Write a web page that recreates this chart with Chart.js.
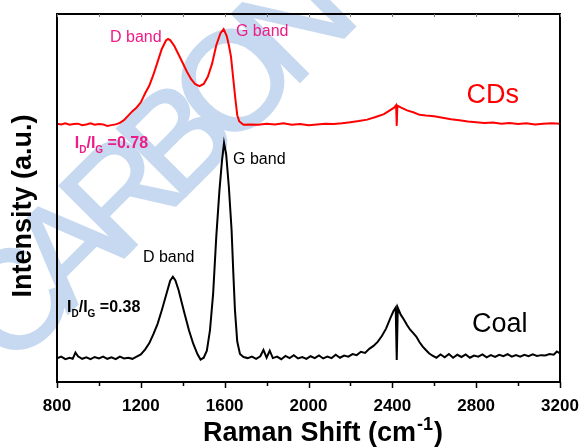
<!DOCTYPE html>
<html>
<head>
<meta charset="utf-8">
<script src="https://cdn.jsdelivr.net/npm/chart.js@4"></script>
<style>
  body { margin: 0; background: #fff; }
  #wrap { width: 584px; height: 448px; }
</style>
</head>
<body>
<div id="wrap"><canvas id="raman" width="584" height="448"></canvas></div>
<script>
// Raman spectra, shift in cm-1, intensity in arbitrary units (offset stack)
const cdsShift = [800,820,840,860,880,900,920,940,960,980,1000,1020,1040,1060,1080,1100,1120,1140,1160,1180,
    1200,1220,1240,1260,1280,1300,1320,1330,1340,1360,1380,1400,1420,1440,1460,1480,1500,1520,1540,1560,
    1580,1595,1610,1620,1630,1640,1650,1660,1670,1690,1720,1760,1800,1840,1880,1920,1960,2000,2040,2080,
    2120,2160,2200,2240,2280,2320,2360,2390,2410,2418,2421,2424,2440,2470,2500,2530,2560,2600,2640,2680,
    2720,2760,2800,2840,2880,2920,2960,3000,3040,3080,3120,3160,3200]
const cdsIntensity = [70.2,70.0,70.3,69.9,70.1,70.2,69.8,70.0,70.3,69.9,70.1,70.0,69.6,69.8,70.0,70.4,71.2,72.4,73.6,74.6,
    76.0,78.4,80.5,83.5,87.0,90.5,92.8,93.2,92.9,91.3,89.0,86.7,84.3,82.3,80.9,80.4,81.0,83.0,86.5,91.5,
    94.8,95.9,94.0,91.5,88.5,83.0,77.5,72.5,70.8,69.9,70.0,69.9,70.2,70.0,70.3,69.9,70.1,69.8,70.0,70.2,
    70.1,70.3,70.6,70.9,71.3,72.0,72.8,73.9,74.6,75.2,69.6,75.1,74.6,73.8,73.3,72.6,72.4,72.2,71.8,71.4,
    71.1,70.8,70.6,70.4,70.5,70.2,70.4,70.1,70.3,70.0,70.2,70.3,70.2]

const coalShift = [800,820,840,860,875,888,900,920,940,960,980,1000,1020,1040,1060,1080,1100,1120,1140,1160,
    1180,1200,1220,1240,1260,1280,1300,1320,1340,1353,1365,1380,1395,1410,1430,1450,1470,1485,1500,1515,
    1530,1545,1560,1575,1587,1597,1607,1620,1633,1641,1649,1660,1673,1690,1710,1730,1750,1770,1785,1800,
    1815,1830,1850,1870,1890,1910,1930,1950,1970,1990,2010,2030,2050,2070,2090,2110,2130,2150,2170,2190,
    2210,2230,2250,2270,2290,2310,2330,2350,2370,2390,2405,2416,2421,2426,2440,2455,2470,2485,2500,2515,
    2530,2545,2560,2575,2590,2610,2630,2650,2670,2690,2710,2730,2750,2770,2790,2810,2830,2850,2870,2890,
    2910,2930,2950,2970,2990,3010,3030,3050,3070,3090,3110,3130,3150,3170,3185,3200]
const coalIntensity = [6.4,6.9,6.2,6.6,6.3,8.0,7.0,6.3,6.7,6.2,6.8,6.4,6.9,6.3,6.7,6.2,6.9,6.4,6.6,6.3,
    6.9,7.5,8.8,10.5,13.0,15.8,19.5,23.5,27.5,28.6,27.6,25.0,21.6,18.3,14.0,10.4,7.6,6.1,6.6,8.5,
    14.1,24.0,39.5,52.0,60.0,65.0,62.0,53.0,41.3,30.0,19.6,11.0,7.6,6.8,6.5,6.9,6.3,7.0,8.7,6.6,
    8.5,6.5,6.9,6.2,7.1,6.5,7.3,6.4,6.8,6.3,7.0,6.5,7.2,6.4,6.9,6.5,7.4,6.6,7.2,6.9,
    7.6,7.3,8.2,7.9,9.0,9.8,10.9,12.5,14.5,17.3,19.2,20.2,6.0,20.2,18.3,17.0,15.5,14.2,13.3,12.3,
    10.8,9.6,8.7,7.8,7.2,6.6,7.5,6.7,7.6,6.6,7.4,6.8,7.5,6.6,7.2,6.9,7.5,6.7,7.3,6.8,
    7.4,7.0,7.6,6.9,7.3,6.9,7.4,7.0,7.5,7.1,7.3,7.2,7.6,7.4,8.3,7.8]

const shiftTicks = [800, 1200, 1600, 2000, 2400, 2800, 3200]

const pink = '#ee1c86'

function toPoints(xs, ys) {
    return xs.map((x, i) => ({ x: x, y: ys[i] }))
}

// light blue watermark behind the traces
const watermark = {
    id: 'watermark',
    beforeDatasetsDraw(chart) {
        const ctx = chart.ctx
        ctx.save()
        ctx.translate(-17, 344)
        ctx.rotate(-45 * Math.PI / 180)
        ctx.font = '140px "Liberation Sans", Arial, sans-serif'
        ctx.letterSpacing = '-20px'
        ctx.fillStyle = '#c6d9f0'
        ctx.strokeStyle = '#c6d9f0'
        ctx.lineWidth = 2
        ctx.textAlign = 'left'
        ctx.textBaseline = 'middle'
        ctx.fillText('CARBON', 0, 0)
        ctx.strokeText('CARBON', 0, 0)
        ctx.restore()
    }
}

// box frame + tick marks
const frame = {
    id: 'frame',
    afterDraw(chart) {
        const ctx = chart.ctx
        const a = chart.chartArea
        const xs = chart.scales.x
        ctx.save()
        ctx.strokeStyle = '#000'
        ctx.lineWidth = 2
        ctx.strokeRect(a.left, a.top, a.right - a.left, a.bottom - a.top)
        for (let v = 800; v <= 3200; v += 200) {
            const px = Math.round(xs.getPixelForValue(v)) + 0.5
            const major = v % 400 === 0
            ctx.lineWidth = 1.5
            ctx.strokeStyle = '#000'
            ctx.beginPath()
            ctx.moveTo(px, a.bottom)
            ctx.lineTo(px, a.bottom + (major ? 6 : 4))
            ctx.stroke()
            ctx.lineWidth = 1
            ctx.strokeStyle = '#777'
            ctx.beginPath()
            ctx.moveTo(px, a.top)
            ctx.lineTo(px, a.top + 3)
            ctx.stroke()
        }
        ctx.restore()
    }
}

function drawRatio(ctx, x, y, tail, color) {
    ctx.fillStyle = color
    ctx.textBaseline = 'alphabetic'
    ctx.textAlign = 'left'
    const big = 'bold 16px Arial, "Liberation Sans", sans-serif'
    const small = 'bold 10px Arial, "Liberation Sans", sans-serif'
    const parts = [['I', big, 0], ['D', small, 5], ['/I', big, 0], ['G', small, 5], [' ' + tail, big, 0]]
    parts.forEach(p => {
        ctx.font = p[1]
        ctx.fillText(p[0], x, y + p[2])
        x += ctx.measureText(p[0]).width
    })
}

// band labels and ratios, anchored in data coordinates
const notes = {
    id: 'notes',
    afterDatasetsDraw(chart) {
        const ctx = chart.ctx
        const xs = chart.scales.x
        const ys = chart.scales.y
        const px = v => xs.getPixelForValue(v)
        const py = v => ys.getPixelForValue(v)
        ctx.save()
        ctx.textAlign = 'left'
        ctx.textBaseline = 'alphabetic'
        ctx.font = '16px Arial, "Liberation Sans", sans-serif'
        ctx.fillStyle = pink
        ctx.fillText('D band', px(1053), py(92.4))
        ctx.fillText('G band', px(1654), py(94.0))
        ctx.fillStyle = '#000'
        ctx.fillText('G band', px(1640), py(59.2))
        ctx.fillText('D band', px(1210), py(32.6))
        ctx.font = '27px Arial, "Liberation Sans", sans-serif'
        ctx.fillStyle = '#ff0000'
        ctx.fillText('CDs', px(2754), py(75.8))
        ctx.fillStyle = '#000'
        ctx.fillText('Coal', px(2780), py(13.6))
        drawRatio(ctx, px(885), py(63.6), '=0.78', pink)
        drawRatio(ctx, px(848), py(19.0), '=0.38', '#000')
        ctx.restore()
    }
}

// axis titles, with the superscript in cm-1
const titles = {
    id: 'titles',
    afterDraw(chart) {
        const ctx = chart.ctx
        ctx.save()
        ctx.fillStyle = '#000'
        ctx.textBaseline = 'alphabetic'
        ctx.textAlign = 'left'
        let x = 203
        const y = 441
        ctx.font = 'bold 27px Arial, "Liberation Sans", sans-serif'
        ctx.fillText('Raman Shift (cm', x, y)
        x += ctx.measureText('Raman Shift (cm').width
        ctx.font = 'bold 18px Arial, "Liberation Sans", sans-serif'
        ctx.fillText('-1', x + 1, y - 11)
        x += ctx.measureText('-1').width + 2
        ctx.font = 'bold 27px Arial, "Liberation Sans", sans-serif'
        ctx.fillText(')', x, y)

        ctx.translate(24, 206)
        ctx.rotate(-Math.PI / 2)
        ctx.textAlign = 'center'
        ctx.textBaseline = 'middle'
        ctx.font = 'bold 27px Arial, "Liberation Sans", sans-serif'
        ctx.fillText('Intensity (a.u.)', 0, 0)
        ctx.restore()
    }
}

new Chart(document.getElementById('raman'), {
    type: 'line',
    data: {
        datasets: [{
            label: 'CDs',
            data: toPoints(cdsShift, cdsIntensity),
            borderColor: '#ff0000',
            borderWidth: 2,
            pointRadius: 0,
            tension: 0
        }, {
            label: 'Coal',
            data: toPoints(coalShift, coalIntensity),
            borderColor: '#000000',
            borderWidth: 2,
            pointRadius: 0,
            tension: 0
        }]
    },
    options: {
        responsive: false,
        animation: false,
        layout: { padding: { top: 14, right: 24, left: 0, bottom: 0 } },
        plugins: {
            legend: { display: false },
            tooltip: { enabled: false }
        },
        scales: {
            x: {
                type: 'linear',
                min: 800,
                max: 3200,
                afterFit(scale) {
                    scale.height = 66
                    scale.paddingLeft = 0
                    scale.paddingRight = 0
                },
                afterBuildTicks(scale) { scale.ticks = shiftTicks.map(v => ({ value: v })) },
                grid: { display: false, drawTicks: false },
                border: { display: false },
                ticks: {
                    color: '#000',
                    padding: 14,
                    maxRotation: 0,
                    autoSkip: false,
                    callback: v => String(v),
                    font: { family: 'Arial, "Liberation Sans", sans-serif', size: 17, weight: 'bold' }
                }
            },
            y: {
                min: 0,
                max: 100,
                afterFit(scale) { scale.width = 57 },
                grid: { display: false, drawTicks: false },
                border: { display: false },
                ticks: { display: false }
            }
        }
    },
    plugins: [watermark, notes, frame, titles]
})
</script>
</body>
</html>
